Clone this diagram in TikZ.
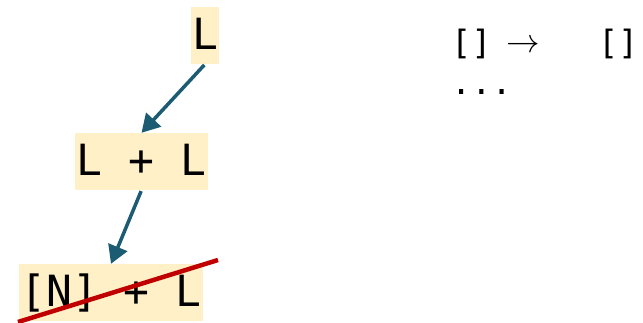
\documentclass[tikz,border=0pt]{standalone}
\usepackage{fix-cm}
\usepackage{fontspec}
\setmonofont{DejaVu Sans Mono}
\usetikzlibrary{arrows.meta}
\definecolor{boxfill}{HTML}{FFF0C8}
\definecolor{edgeblue}{HTML}{1B5C73}
\definecolor{strike}{HTML}{C00000}
\begin{document}
\begin{tikzpicture}[x=1pt,y=-1pt,
  term/.style={fill=boxfill, inner xsep=1.5pt, inner ysep=4pt,
    text height=39pt, text depth=10pt,
    font=\fontsize{43}{50}\selectfont\ttfamily},
  derive/.style={draw=edgeblue, line width=3.5pt,
    -{Triangle[length=18pt,width=20pt]}, shorten <=1pt},
  rule/.style={anchor=base west, inner sep=0pt,
    font=\fontsize{33.5}{40}\selectfont\ttfamily}
]
\useasboundingbox (0,0) rectangle (643,323);

% derivation tree
\node[term] (top) at (205,35.5) {L};
\node[term] (sum) at (141.5,161.5) {L + L};
\node[term] (bad) at (111,292.5) {[N] + L};

\draw[derive] (top.south) -- (sum.north);
\draw[derive] (sum.south) -- (bad.north);

% struck-out alternative
\coordinate (s1) at (18,322);
\coordinate (s2) at (218,260);
\draw[strike, line width=4.5pt] (s1) -- (s2);

% rewrite rules
\node[rule] (r1) at (451,55) {[]\hspace{15pt}\raisebox{2pt}{$\rightarrow$}\hspace{58pt}[]};
\node[rule] (r2) at (451,95) {...};
\end{tikzpicture}
\end{document}
